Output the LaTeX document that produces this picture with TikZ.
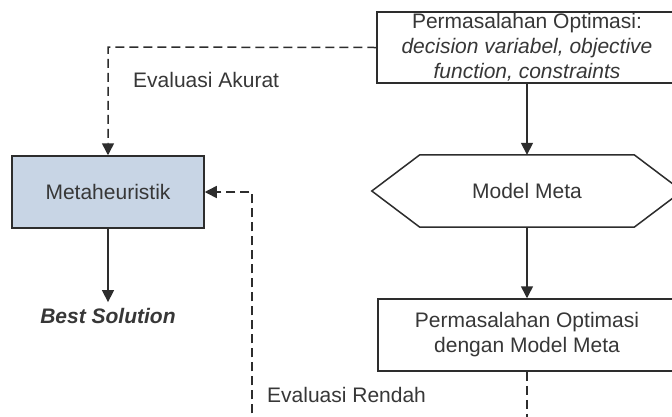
\documentclass[tikz,border=0pt]{standalone}
\usepackage{fontspec}
\setmainfont{Liberation Sans}
\usetikzlibrary{arrows.meta,calc}
\definecolor{ink}{RGB}{45,45,45}
\definecolor{txt}{RGB}{55,55,55}
\definecolor{metafill}{RGB}{200,213,229}
\begin{document}
\begin{tikzpicture}[x=1pt,y=-1pt,
  every node/.style={font=\fontsize{21}{25}\selectfont, text=txt},
  flowline/.style={draw=ink, line width=1.5pt},
  tip/.style={-{Triangle[length=12pt,width=12pt]}},
  dashline/.style={flowline, dash pattern=on 9pt off 5pt},
  box/.style={draw=ink, line width=1.5pt, fill=white, align=center,
    inner sep=0pt},
  label/.style={anchor=west, inner sep=0pt}
]
\useasboundingbox (0,0) rectangle (672,416);
\clip (0,0) rectangle (672,416);
\fill[white] (0,0) rectangle (672,416);

% problem definition
\node[box, minimum width=300pt, minimum height=71pt] (P) at (527,47.5)
  {Permasalahan Optimasi:\\ \textit{decision variabel, objective}\\ \textit{function, constraints}};

% meta model (hexagon drawn around a plain node)
\node[inner sep=0pt, minimum width=310pt, minimum height=72pt] (M) at (527,191) {Model Meta};
\draw[flowline, line join=miter]
  (M.west) -- ($(M.north west)+(48,0)$) -- ($(M.north east)+(-48,0)$)
  -- (M.east) -- ($(M.south east)+(-48,0)$) -- ($(M.south west)+(48,0)$) -- cycle;

% optimisation with the meta model
\node[box, minimum width=298pt, minimum height=72pt] (B) at (527,335)
  {Permasalahan Optimasi\\ dengan Model Meta};

% metaheuristic solver
\node[box, fill=metafill, minimum width=192pt, minimum height=72pt] (H) at (108,192)
  {Metaheuristik};

\node[inner sep=0pt] (S) at (108,316) {\textbf{\textit{Best Solution}}};

% solid flow
\draw[flowline, tip] (P.south) -- (M.north);
\draw[flowline, tip] (M.south) -- (B.north);
\draw[flowline, tip] (H.south) -- ($(S.north)+(0,-6)$);

% accurate evaluation
\coordinate (ac) at (108,47);
\draw[dashline, tip] (P.west) -- (ac) -- (H.north);
\node[label] (la) at (133,80) {Evaluasi Akurat};

% low-fidelity evaluation
\coordinate (rb) at (527,430);
\coordinate (lb) at (252,430);
\coordinate (lt) at (252,192);
\draw[dashline, tip] (B.south) -- (rb) -- (lb) -- (lt) -- (H.east);
\node[label] (lr) at (267,395) {Evaluasi Rendah};
\end{tikzpicture}
\end{document}
